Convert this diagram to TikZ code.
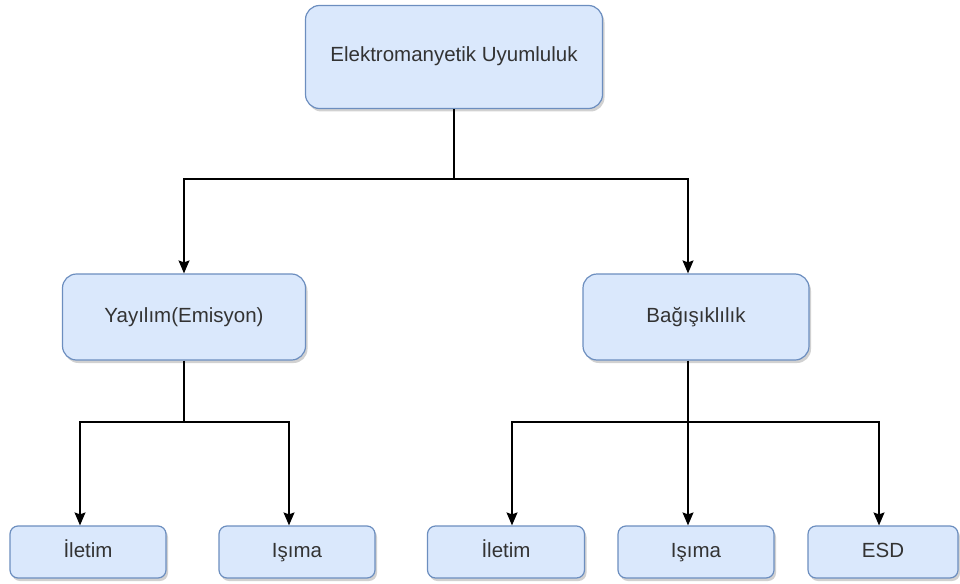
\documentclass[tikz,border=0pt]{standalone}
\usepackage{fontspec}
\setmainfont{Liberation Sans}
\usepackage{xcolor}
\usepackage{tikz}
\usetikzlibrary{
    positioning,
    arrows.meta,
    shadows
}
\definecolor{boxfill}{HTML}{DAE8FC}
\definecolor{boxdraw}{HTML}{6C8EBF}
\definecolor{boxtext}{HTML}{333333}

\begin{document}
\begin{tikzpicture}[
    x=1pt, y=-1pt,
    topicbox/.style={rectangle, draw=boxdraw, fill=boxfill, line width=1.2pt, rounded corners=14pt, align=center, text=boxtext, font=\fontsize{20.5}{24}\selectfont, inner sep=0pt, text height=14pt, text depth=4pt, drop shadow={shadow xshift=2pt, shadow yshift=-3pt, opacity=0.18, fill=black}},
    leafbox/.style={topicbox, rounded corners=8pt, minimum height=52pt},
    link/.style={line width=1.5pt, draw=black},
    arrow/.style={link, -{Stealth[length=13pt, width=11pt, inset=2pt]}}
]
\useasboundingbox (0,0) rectangle (960,583);

\node[topicbox, minimum width=297pt, minimum height=103pt] (emc) at (454,57) {Elektromanyetik Uyumluluk};
\node[topicbox, minimum width=243pt, minimum height=86pt] (emission) at (184,317) {Yayılım(Emisyon)};
\node[topicbox, minimum width=226pt, minimum height=86pt] (immunity) at (696,317) {Bağışıklılık};

\node[leafbox, minimum width=156pt] (condA) at (88,552) {İletim};
\node[leafbox, minimum width=156pt] (radA) at (297,552) {Işıma};
\node[leafbox, minimum width=157pt] (condB) at (506,552) {İletim};
\node[leafbox, minimum width=156pt] (radB) at (696,552) {Işıma};
\node[leafbox, minimum width=150pt] (esd) at (883,552) {ESD};

\coordinate (split) at (454,179);
\coordinate (splitA) at (184,422);
\coordinate (splitB) at (688,422);

\draw[link] (emc) -- (split);
\draw[arrow] (split) -| (emission);
\draw[arrow] (split) -| ([xshift=-8pt]immunity.north);

\draw[link] (emission) -- (splitA);
\draw[arrow] (splitA) -| ([xshift=-8pt]condA.north);
\draw[arrow] (splitA) -| ([xshift=-8pt]radA.north);

\draw[link] (immunity.south -| splitB) -- (splitB);
\draw[arrow] (splitB) -| ([xshift=6pt]condB.north);
\draw[arrow] (splitB) -- (splitB |- radB.north);
\draw[arrow] (splitB) -| ([xshift=-4pt]esd.north);
\end{tikzpicture}
\end{document}
